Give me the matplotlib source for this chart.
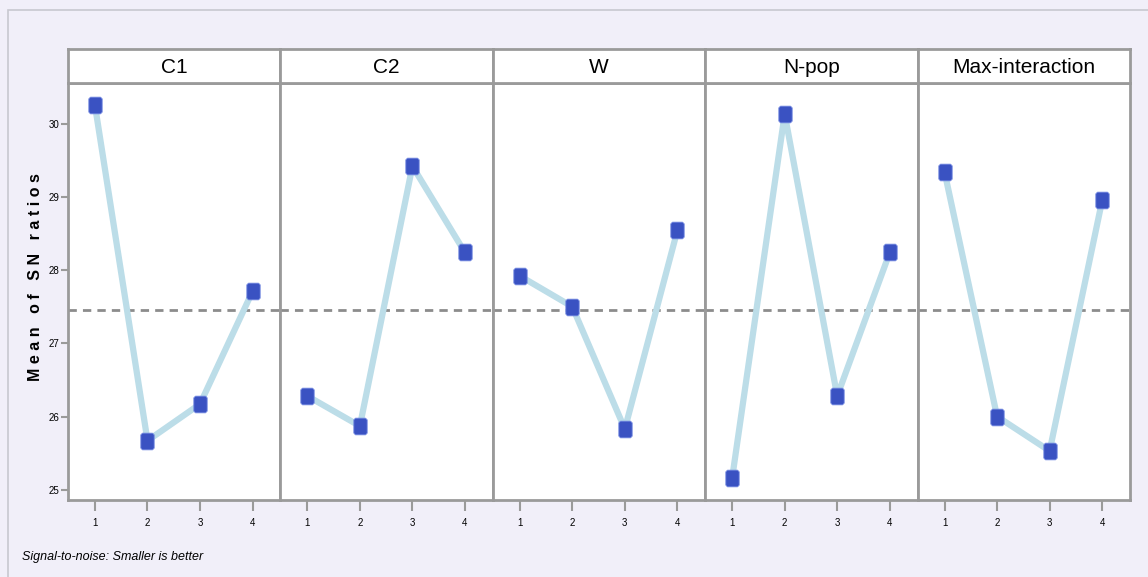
import matplotlib
matplotlib.use("Agg")
import matplotlib.pyplot as plt
from matplotlib.patches import Rectangle

factors = ["C1", "C2", "W", "N-pop", "Max-interaction"]
levels = [1, 2, 3, 4]
sn_c1 = [30.25, 25.67, 26.17, 27.71]
sn_c2 = [26.28, 25.87, 29.42, 28.24]
sn_w = [27.92, 27.50, 25.83, 28.54]
sn_npop = [25.16, 30.13, 26.28, 28.24]
sn_maxint = [29.34, 26.00, 25.53, 28.95]
series = [sn_c1, sn_c2, sn_w, sn_npop, sn_maxint]
y_ticks = [25, 26, 27, 28, 29, 30]

grand_mean = sum(sum(s) for s in series) / (4 * len(series))

font = ["Liberation Sans", "DejaVu Sans"]
bg = "#f1eff9"
grey = "#9a9a9a"

fig = plt.figure(figsize=(11.48, 5.77), dpi=100, facecolor=bg)
W, H = 1148, 577

# outer frame lines
fig.add_artist(Rectangle((8 / W, -0.1), 1.2, 1 - 10 / H + 0.1, transform=fig.transFigure,
                         facecolor="none", edgecolor="#c8c8d0", lw=1.2))

left, right = 68 / W, 1130 / W
bottom, top = 1 - 500 / H, 1 - 83.3 / H
head_top = 1 - 49 / H
pw = (right - left) / len(factors)

# tall marker with clipped corners
mk = [(-0.4, -0.4), (-0.3, -0.5), (0.3, -0.5), (0.4, -0.4), (0.4, 0.4),
      (0.3, 0.5), (-0.3, 0.5), (-0.4, 0.4), (-0.4, -0.4)]

for i, (name, vals) in enumerate(zip(factors, series)):
    ax = fig.add_axes([left + i * pw, bottom, pw, top - bottom])
    ax.set_facecolor("white")
    ax.axhline(grand_mean, color="#8c8c8c", lw=2, ls=(0, (3, 2.2)), zorder=1)
    ax.plot(levels, vals, color="#bcdde8", lw=4.5, zorder=2, solid_capstyle="round")
    ax.plot(levels, vals, ls="none", marker=mk, ms=12, color="#3a52c2",
            mec="#6f86e0", mew=0.6, zorder=3)
    ax.set_xlim(0.487, 4.53)
    ax.set_ylim(24.86, 30.55)
    ax.set_xticks(levels)
    ax.set_xticklabels([str(v) for v in levels], fontsize=7, family=font)
    ax.tick_params(axis="x", length=8, width=1.5, color=grey, pad=5)
    if i == 0:
        ax.set_yticks(y_ticks)
        ax.set_yticklabels([str(v) for v in y_ticks], fontsize=7, family=font)
        ax.tick_params(axis="y", length=5, width=1.5, color=grey, pad=1)
        ax.set_ylabel("M e a n   o f   S N   r a t i o s", fontsize=11.5,
                      fontweight="bold", family=font)
        ax.yaxis.set_label_coords(-0.118, 0.535)
    else:
        ax.set_yticks([])
    for sp in ax.spines.values():
        sp.set_color(grey)
        sp.set_linewidth(2)

    hx = fig.add_axes([left + i * pw, top, pw, head_top - top])
    hx.set_facecolor("white")
    hx.set_xticks([])
    hx.set_yticks([])
    for sp in hx.spines.values():
        sp.set_color(grey)
        sp.set_linewidth(2)
    hx.text(0.5, 0.45, name, ha="center", va="center", fontsize=15,
            family=font, transform=hx.transAxes)

fig.text(22 / W, 1 - 557 / H, "Signal-to-noise: Smaller is better", fontsize=9,
         style="italic", family=font, ha="left", va="center")

fig.savefig("out.png", dpi=100, facecolor=bg)
